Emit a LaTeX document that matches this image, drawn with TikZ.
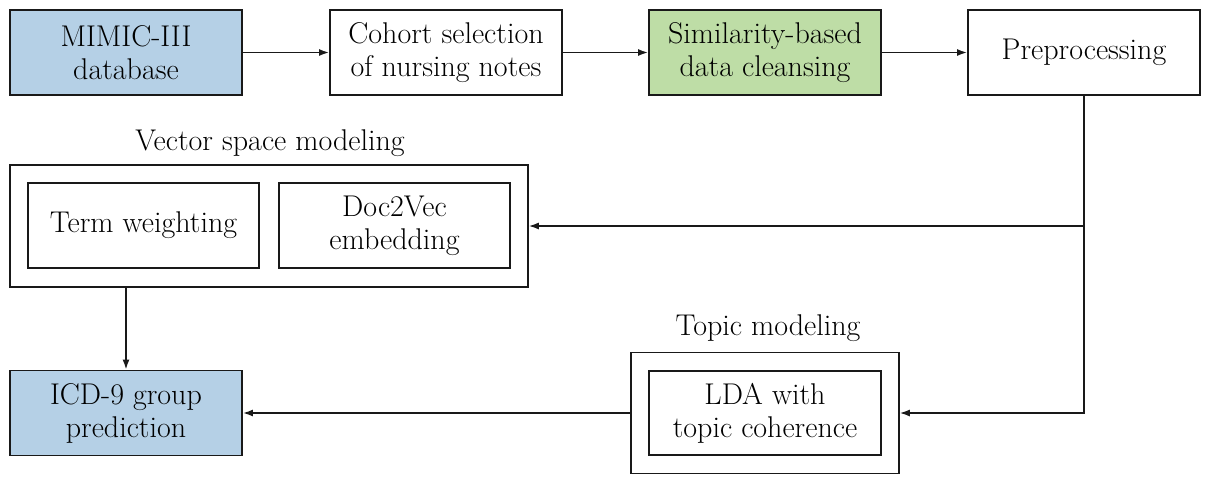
\documentclass[tikz,border=0pt]{standalone}
\usetikzlibrary{arrows.meta}
\definecolor{boxblue}{RGB}{181,208,230}
\definecolor{boxgreen}{RGB}{190,221,166}
\begin{document}
\begin{tikzpicture}[x=1pt,y=-1pt,
  every node/.style={font=\fontsize{30}{33}\selectfont, align=center},
  box/.style={draw=black!90, line width=1.8pt, rectangle, minimum width=232pt, minimum height=85pt, inner sep=0pt},
  outerbox/.style={draw=black!90, line width=1.5pt, rectangle, inner sep=0pt},
  conn/.style={draw=black!90, line width=1.6pt, -{Latex[length=10pt,width=7pt]}}]
\useasboundingbox (0,0) rectangle (1212,488);
\node[box, fill=boxblue] (mimic) at (126,52.5) {MIMIC-III\\database};
\node[box] (cohort) at (446,52.5) {Cohort selection\\of nursing notes};
\node[box, fill=boxgreen] (sim) at (765,52.5) {Similarity-based\\data cleansing};
\node[box] (pre) at (1084,52.5) {Preprocessing};
\node[outerbox, minimum width=518pt, minimum height=122pt] (vsm) at (269,226) {};
\node (vsmlabel) at (270,143) {Vector space modeling};
\node[box, minimum width=231pt] (term) at (143.5,225.5) {Term weighting};
\node[box, minimum width=231pt] (doc) at (394.5,225.5) {Doc2Vec\\embedding};
\node[box, fill=boxblue] (icd) at (126,413) {ICD-9 group\\prediction};
\node[outerbox, minimum width=268pt, minimum height=121pt] (topic) at (765,413) {};
\node (topiclabel) at (768,328) {Topic modeling};
\node[box, minimum height=84pt] (lda) at (765,413) {LDA with\\topic coherence};
\draw[conn] (mimic) -- (cohort);
\draw[conn] (cohort) -- (sim);
\draw[conn] (sim) -- (pre);
\draw[conn] (pre.south) |- (topic.east);
\coordinate (br) at (pre.south |- vsm.east);
\draw[conn] (br) -- (vsm.east);
\draw[conn] (topic.west) -- (icd.east);
\coordinate (vsmb) at (icd.north |- vsm.south);
\draw[conn] (vsmb) -- (icd.north);
\end{tikzpicture}
\end{document}
